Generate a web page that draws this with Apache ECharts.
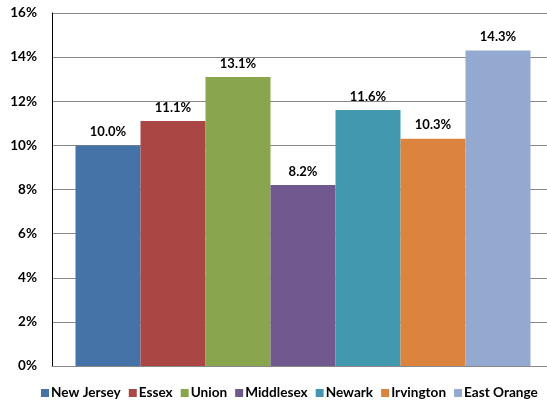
<!DOCTYPE html>
<html><head><meta charset="utf-8">
<script src="https://cdn.jsdelivr.net/npm/echarts@6/dist/echarts.min.js"></script>
<style>html,body{margin:0;padding:0;background:#fff}#c{width:547px;height:400px}</style>
</head><body><div id="c"></div>
<script>
const names = ["New Jersey","Essex","Union","Middlesex","Newark","Irvington","East Orange"];
const values = [10.0, 11.1, 13.1, 8.2, 11.6, 10.3, 14.3];
const colors = ["#4572A7","#AA4643","#89A54E","#71588F","#4198AF","#DB843D","#93A9CF"];
const yTicks = [0,2,4,6,8,10,12,14,16];
const font = "Lato, 'Open Sans', sans-serif";
const chart = echarts.init(document.getElementById('c'));
chart.setOption({
  animation: false,
  textStyle: {fontFamily: font},
  grid: {left: 52, top: 13, width: 502, height: 353, containLabel: false, outerBoundsMode: 'none'},
  legend: {
    bottom: 0, left: 41, width: 520, padding: 0, itemWidth: 8, itemHeight: 8, itemGap: 8,
    icon: 'rect',
    textStyle: {fontFamily: font, fontWeight: 'bold', fontSize: 13.6, color: '#000', padding: [0,0,0,-3]},
    data: names
  },
  xAxis: {type: 'category', data: [''], axisLine: {lineStyle: {color: '#888'}}, axisTick: {show: false}, axisLabel: {show: false}},
  yAxis: {
    type: 'value', min: yTicks[0], max: yTicks[yTicks.length-1], interval: 2,
    axisLine: {show: true, lineStyle: {color: '#000'}},
    axisTick: {show: false},
    splitLine: {lineStyle: {color: '#888'}},
    axisLabel: {formatter: v => v + '%', fontFamily: font, fontWeight: 'bold', fontSize: 13.5, color: '#000', margin: 15}
  },
  series: names.map((n, i) => ({
    name: n, type: 'bar', data: [values[i]], barWidth: 65, barGap: '0%',
    itemStyle: {color: colors[i]},
    label: {show: true, position: 'top', formatter: p => p.value.toFixed(1) + '%', fontFamily: font, fontWeight: 'bold', fontSize: 13, color: '#000', distance: 7}
  }))
});
</script></body></html>
